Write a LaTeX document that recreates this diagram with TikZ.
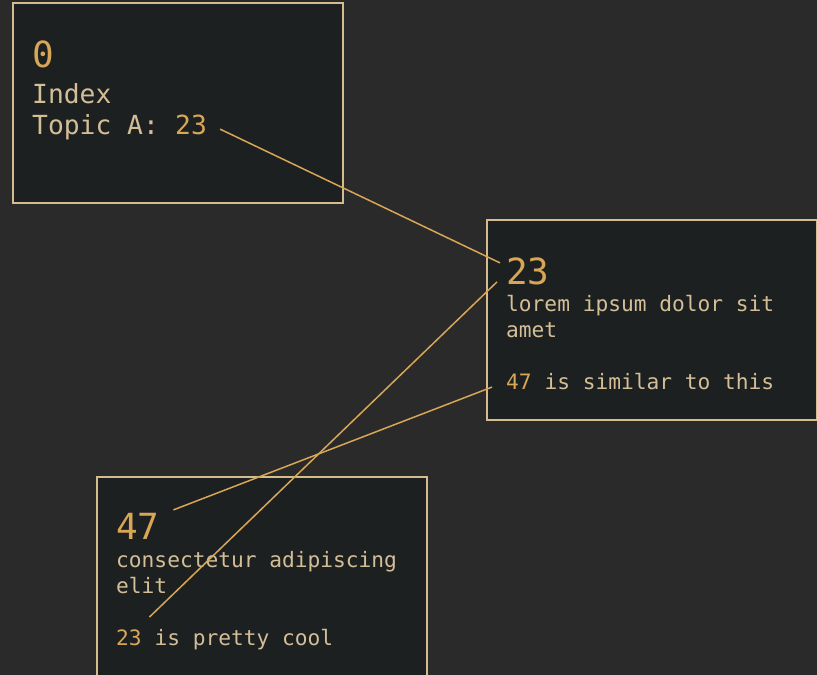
\documentclass[tikz,border=0pt]{standalone}
\usepackage{fontspec}
\setmonofont{DejaVu Sans Mono}
\usepackage{xcolor}
\definecolor{bgc}{HTML}{2A2A2A}
\definecolor{cardc}{HTML}{1D2021}
\definecolor{edgec}{HTML}{D5BC8E}
\definecolor{txtc}{HTML}{D4BE98}
\definecolor{numc}{HTML}{D8A657}

\begin{document}
\begin{tikzpicture}[
  x=1pt, y=-1pt,
  card/.style={draw=edgec, fill=cardc, line width=2pt,
               minimum width=330pt, minimum height=200pt, inner sep=0pt},
  bignum/.style={anchor=base west, inner sep=0pt, text=numc,
                 font=\ttfamily\fontsize{36}{40}\selectfont},
  bodyA/.style={anchor=base west, inner sep=0pt, text=txtc,
                font=\ttfamily\fontsize{26.3}{31}\selectfont},
  body/.style={anchor=base west, inner sep=0pt, text=txtc,
               font=\ttfamily\fontsize{21.2}{26}\selectfont},
  ref/.style={body, text=numc},
  link/.style={draw=numc, line width=1.5pt},
]
  % Background and page size
  \fill[bgc] (0,0) rectangle (817,675);
  \useasboundingbox (0,0) rectangle (817,675);

  % Card 0 (index)
  \node[card] (cardA) at (177.5,102.5) {};
  \node[bignum] (headA) at (32,67) {0};
  \node[bodyA] (nameA) at (32,103) {Index};
  \node[bodyA] (topicA) at (32,134) {Topic A:};
  \node[bodyA, text=numc] (topicref) at (175,134) {23};

  % Card 23
  \node[card] (cardB) at (651.5,320) {};
  \node[bignum] (headB) at (506,284) {23};
  \node[body] (textB1) at (506,311) {lorem ipsum dolor sit};
  \node[body] (textB2) at (506,337) {amet};
  \node[ref] (simref) at (506,389) {47};
  \node[body] (simtext) at (544.3,389) {is similar to this};

  % Card 47
  \node[card] (cardC) at (262,577) {};
  \node[bignum] (headC) at (116,539) {47};
  \node[body] (textC1) at (116,567) {consectetur adipiscing};
  \node[body] (textC2) at (116,593) {elit};
  \node[ref] (coolref) at (116,645) {23};
  \node[body] (cooltext) at (154.3,645) {is pretty cool};

  % Links between references and cards
  \draw[link] ([xshift=13pt, yshift=-4.7pt]topicref.east)
    -- ([xshift=-6pt, yshift=8pt]headB.west);
  \draw[link] ([xshift=-9pt, yshift=-11pt]headB.west)
    -- ([xshift=7.5pt, yshift=12pt]coolref.north east);
  \draw[link] ([xshift=-14pt, yshift=-5.8pt]simref.west)
    -- ([xshift=13.7pt, yshift=16pt]headC.east);
\end{tikzpicture}
\end{document}
